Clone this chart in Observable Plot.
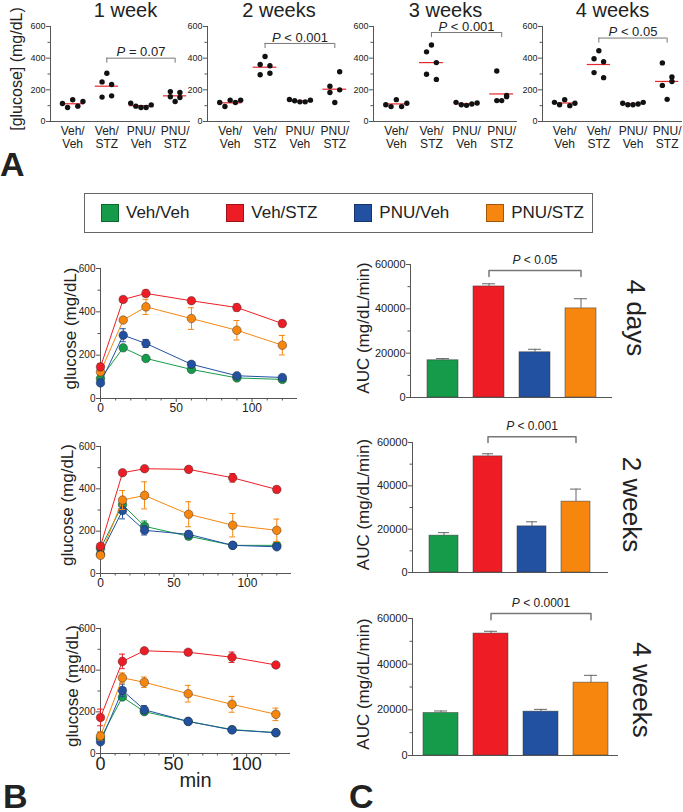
<!DOCTYPE html>
<html><head><meta charset="utf-8">
<script src="https://cdn.jsdelivr.net/npm/d3@7"></script>
<script src="https://cdn.jsdelivr.net/npm/@observablehq/plot@0.6"></script>
<style>
body{margin:0;background:#fff;}
#fig{position:relative;width:683px;height:812px;overflow:hidden;font-family:"Liberation Sans",Arial,sans-serif;color:#222;}
.panel{position:absolute;font-weight:bold;font-size:34px;line-height:36px;}
</style></head><body><div id="fig"></div>
<script>
// ---------- data ----------
const groups = ["Veh/Veh","Veh/STZ","PNU/Veh","PNU/STZ"];
const groupColors = ["#159b49","#ee1d25","#2251a2","#f7860f"];

// Panel A: fasting glucose, individual animals (mg/dL)
const aTitles = ["1 week","2 weeks","3 weeks","4 weeks"];
const aTicks = [0,200,400,600];
const aMinorTicks = [100,300,500];
const week1Dots = [[114,88,137,97,126],[305,250,234,154,162],[116,97,88,88,105],[126,189,183,156,152]];
const week2Dots = [[120,95,135,120,135],[411,360,352,295,305],[139,131,124,124,135],[120,223,200,183,314]];
const week3Dots = [[106,94,138,94,115],[483,440,372,298,266],[121,106,102,111,117],[132,319,164,132,157]];
const week4Dots = [[121,106,138,100,115],[447,396,377,309,277],[115,106,106,111,121],[140,370,281,228,253]];
const aMeans = [[112,223,100,162],[118,343,130,204],[111,372,112,174],[117,360,112,253]];
const aPLabels = ["P = 0.07","P < 0.001","P < 0.001","P < 0.05"];
const aBracketY = [400,493,562,527];

// Panel B: glucose tolerance (mg/dL) vs time (min)
const times = [0,15,30,60,90,120];
const bMinTicks = [0,50,100];
const bGlucoseTicks = [0,200,400,600];
const b4dMean = [[92,234,185,134,95,88],[146,457,485,451,420,346],[72,292,254,158,105,97],[123,362,423,369,315,246]];
const b4dErr  = [[8,8,8,6,5,5],[14,12,15,12,16,15],[8,30,18,12,8,8],[12,10,35,50,45,45]];
const b2wMean = [[118,325,223,176,133,133],[129,476,495,492,452,397],[91,298,204,185,133,126],[86,347,369,280,228,204]];
const b2wErr  = [[10,20,25,15,8,8],[10,10,6,6,20,15],[10,40,22,15,8,8],[10,45,64,59,55,53]];
const b4wMean = [[72,271,201,154,115,100],[173,442,493,486,462,425],[56,303,210,154,113,100],[84,363,342,287,236,188]];
const b4wErr  = [[6,10,10,5,5,5],[40,35,8,12,25,8],[5,30,20,5,5,5],[20,24,25,40,38,30]];

// Panel C: AUC (mg/dL/min)
const cSideLabels = ["4 days","2 weeks","4 weeks"];
const aucTicks = [0,20000,40000,60000];
const aucMinorTicks = [10000,30000,50000];
const auc4d = [16800,50100,20400,40200], auc4dErr = [750,1200,1350,4350];
const auc2w = [17000,53600,21300,32700], auc2wErr = [1400,1200,2100,5800];
const auc4w = [18600,53400,19200,31900], auc4wErr = [900,1000,1000,3200];
const cPLabels = ["P < 0.05","P < 0.001","P < 0.0001"];
const cBracketY = [57300,62700,62200];

// ---------- helpers ----------
const fig = document.getElementById("fig");
const FONT = "Liberation Sans, Arial, sans-serif";
const AX = "#555";
function place(node, left, top){
  node.style.position = "absolute";
  node.style.left = left + "px";
  node.style.top = top + "px";
  fig.appendChild(node);
}
function italicP(svg){
  d3.select(svg).selectAll("text").each(function(){
    const t = this.textContent;
    if (/^P [<=]/.test(t) && this.children.length === 0){
      this.textContent = "";
      d3.select(this).append("tspan").attr("font-style","italic").text("P");
      d3.select(this).append("tspan").text(t.slice(1));
    }
  });
}
const baseStyle = {background:"transparent", overflow:"visible", fontFamily:FONT, color:"#222"};

// ---------- Panel A ----------
const aAxisX = [50,207,373,542];
const aFrameW = [140,143,144,140];
const jitterRow = [-0.3,-0.15,0,0.15,0.3];
const jitterCluster = [0,-0.14,0.14,-0.14,0.14];
[week1Dots,week2Dots,week3Dots,week4Dots].forEach((wk,k)=>{
  const pts = wk.flatMap((vals,g)=>vals.map((v,j)=>({x: g + (g%2===0 ? jitterRow[j] : jitterCluster[j]), v})));
  const means = aMeans[k].map((m,g)=>({g,m}));
  const b = aBracketY[k];
  const mL = 45;
  const marks = [
    Plot.frame({anchor:"left", stroke:AX}),
    Plot.ruleY([0], {stroke:AX}),
    Plot.axisY({ticks:aTicks, tickSize:4, tickPadding:1, fontSize:9, label:null, stroke:AX}),
    Plot.axisY({ticks:aMinorTicks, tickSize:2.5, tickFormat:()=>"", label:null, stroke:AX}),
    Plot.text(groups, {x:(d,i)=>i, frameAnchor:"bottom", lineAnchor:"middle", dy:10, text:d=>d.split("/")[0]+"/", fontSize:12}),
    Plot.text(groups, {x:(d,i)=>i, frameAnchor:"bottom", lineAnchor:"middle", dy:23, text:d=>d.split("/")[1], fontSize:12}),
    Plot.ruleY(means, {x1:d=>d.g-0.34, x2:d=>d.g+0.34, y:"m", stroke:"#e8262c", strokeWidth:1.2}),
    Plot.dot(pts, {x:"x", y:"v", r:2.7, fill:"#111"}),
    Plot.ruleY([b], {x1:1, x2:3, stroke:"#777"}),
    Plot.ruleX([1,3], {x:d=>d, y1:b-32, y2:b, stroke:"#777"}),
    Plot.text([aPLabels[k]], {x:2, y:b, dy:-6, fontSize:13}),
    Plot.text([aTitles[k]], {frameAnchor:"top", lineAnchor:"middle", textAnchor:"middle", dx:k===0?5:0, dy:-16, fontSize:20})
  ];
  if (k===0) marks.push(Plot.text(["[glucose] (mg/dL)"], {frameAnchor:"left", textAnchor:"middle", lineAnchor:"middle", rotate:-90, dx:-34, dy:-5, fontSize:16}));
  const svg = Plot.plot({
    width: mL + aFrameW[k] + 4, height:150,
    marginLeft:mL, marginRight:4, marginTop:26, marginBottom:29,
    x:{domain:[-0.65,3.45], axis:null},
    y:{domain:[0,600]},
    style: baseStyle,
    marks
  });
  italicP(svg);
  place(svg, aAxisX[k]-mL, 0);
});

// ---------- Legend ----------
const legend = document.createElement("div");
Object.assign(legend.style, {position:"absolute", left:"84px", top:"193px", width:"509px", height:"40px",
  boxSizing:"border-box", border:"1px solid #666", display:"flex", alignItems:"center",
  justifyContent:"space-between", padding:"0 8px 0 16px", fontSize:"17px"});
groups.forEach((g,i)=>{
  const it = document.createElement("div");
  Object.assign(it.style, {display:"flex", alignItems:"center"});
  const sw = document.createElement("span");
  Object.assign(sw.style, {display:"inline-block", width:"18px", height:"18px", background:groupColors[i],
    border:"1px solid rgba(0,0,0,0.35)", boxSizing:"border-box", marginRight:"7px"});
  it.appendChild(sw);
  it.appendChild(document.createTextNode(g));
  legend.appendChild(it);
});
fig.appendChild(legend);

// ---------- Panel B ----------
function panelB(means, errs, cfg){
  const order = [0,2,3,1];
  const marks = [
    Plot.frame({anchor:"left", stroke:AX}),
    Plot.ruleY([0], {stroke:AX}),
    Plot.axisY({ticks:bGlucoseTicks, tickSize:4, tickPadding:1, fontSize:10, label:null, stroke:AX}),
    Plot.axisY({ticks:[100,300,500], tickSize:2.5, tickFormat:()=>"", label:null, stroke:AX}),
    Plot.axisX({ticks:bMinTicks, tickSize:4, tickPadding:cfg.xpad, fontSize:cfg.xfs, label:null, stroke:AX}),
    Plot.axisX({ticks:d3.range(10,130,10).filter(t=>t%50), tickSize:2.5, tickFormat:()=>"", label:null, stroke:AX}),
  ];
  for (const i of order){
    const pts = times.map((t,j)=>({t, v:means[i][j], e:errs[i][j]}));
    const c = groupColors[i];
    marks.push(
      Plot.line(pts, {x:"t", y:"v", stroke:c, strokeWidth:1}),
      Plot.ruleX(pts, {x:"t", y1:d=>d.v-d.e, y2:d=>d.v+d.e, stroke:c, strokeWidth:1}),
      Plot.ruleY(pts, {x1:d=>d.t-2, x2:d=>d.t+2, y:d=>d.v+d.e, stroke:c, strokeWidth:1}),
      Plot.ruleY(pts, {x1:d=>d.t-2, x2:d=>d.t+2, y:d=>d.v-d.e, stroke:c, strokeWidth:1}),
      Plot.dot(pts, {x:"t", y:"v", r:4.3, fill:c, stroke:"#222", strokeWidth:0.6, strokeOpacity:0.7})
    );
  }
  marks.push(Plot.text(["glucose (mg/dL)"], {frameAnchor:"left", textAnchor:"middle", lineAnchor:"middle", rotate:-90, dx:cfg.ldx, dy:-5, fontSize:17}));
  if (cfg.min) marks.push(Plot.text(["min"], {frameAnchor:"bottom", lineAnchor:"middle", textAnchor:"middle", dy:27, fontSize:20}));
  const svg = Plot.plot({
    width: 100 + cfg.fw + 6, height: cfg.h,
    marginLeft:100, marginRight:6, marginTop:cfg.mt, marginBottom:cfg.mb,
    x:{domain:[0,130]}, y:{domain:[0,600]},
    style: baseStyle, marks
  });
  place(svg, 0, cfg.top);
}
panelB(b4dMean, b4dErr, {top:240, h:190, mt:28, mb:32, fw:197, xfs:12, xpad:1, ldx:-30});
panelB(b2wMean, b2wErr, {top:420, h:180, mt:26, mb:27, fw:191, xfs:12, xpad:1, ldx:-33});
panelB(b4wMean, b4wErr, {top:600, h:212, mt:28, mb:59, fw:190, xfs:18, xpad:0, ldx:-28, min:true});

// ---------- Panel C ----------
function panelC(vals, errs, k, cfg){
  const rows = groups.map((g,i)=>({g, v:vals[i], e:errs[i]}));
  const b = cBracketY[k], drop = 2700;
  const br = [{x:"Veh/STZ", y:b-drop},{x:"Veh/STZ", y:b},{x:"PNU/STZ", y:b},{x:"PNU/STZ", y:b-drop}];
  const marks = [
    Plot.barY(rows, {x:"g", y:"v", fill:"g", stroke:"#333", strokeOpacity:0.6, strokeWidth:0.8}),
    Plot.ruleX(rows, {x:"g", y1:"v", y2:d=>d.v+d.e, stroke:"#666"}),
    Plot.tickY(rows, {x:"g", y:d=>d.v+d.e, stroke:"#666", insetLeft:cfg.cap, insetRight:cfg.cap}),
    Plot.frame({anchor:"left", stroke:AX}),
    Plot.ruleY([0], {stroke:AX}),
    Plot.axisY({ticks:aucTicks, tickSize:4, tickPadding:1, fontSize:11, tickFormat:d3.format("d"), label:null, stroke:AX}),
    Plot.axisY({ticks:aucMinorTicks, tickSize:2.5, tickFormat:()=>"", label:null, stroke:AX}),
    Plot.line(br, {x:"x", y:"y", stroke:"#777"}),
    Plot.text([cPLabels[k]], {x:()=>"PNU/Veh", y:()=>b, dy:-10, fontSize:12}),
    Plot.text(["AUC (mg/dL/min)"], {frameAnchor:"left", textAnchor:"middle", lineAnchor:"middle", rotate:-90, dx:cfg.ldx, dy:-3, fontSize:17}),
    Plot.text([cSideLabels[k]], {frameAnchor:"right", textAnchor:"middle", lineAnchor:"middle", rotate:90, dx:23, dy:cfg.sdy, fontSize:26})
  ];
  const svg = Plot.plot({
    width:383, height:cfg.h,
    marginLeft:cfg.ax-300, marginRight:683-cfg.xe, marginTop:cfg.mt, marginBottom:cfg.mb,
    x:{type:"band", domain:groups, paddingInner:cfg.pi, paddingOuter:cfg.po, axis:null},
    y:{domain:[0,60000]},
    color:{domain:groups, range:groupColors},
    style: baseStyle, marks
  });
  italicP(svg);
  place(svg, 300, cfg.top);
}
panelC(auc4d, auc4dErr, 0, {top:240, h:170, mt:24, mb:13, ax:410, xe:612, pi:0.33, po:0.36, cap:9, ldx:-47, sdy:-13});
panelC(auc2w, auc2wErr, 1, {top:415, h:172, mt:27, mb:15, ax:412, xe:608, pi:0.33, po:0.345, cap:9, ldx:-49, sdy:-3});
panelC(auc4w, auc4wErr, 2, {top:595, h:175, mt:23, mb:15, ax:412, xe:618, pi:0.31, po:0.175, cap:11, ldx:-49, sdy:3});

// ---------- panel letters ----------
[["A",0,146],["B",3,778],["C",349,778]].forEach(([t,l,tp])=>{
  const d = document.createElement("div");
  d.className = "panel"; d.textContent = t;
  d.style.left = l+"px"; d.style.top = tp+"px";
  fig.appendChild(d);
});
</script></body></html>
